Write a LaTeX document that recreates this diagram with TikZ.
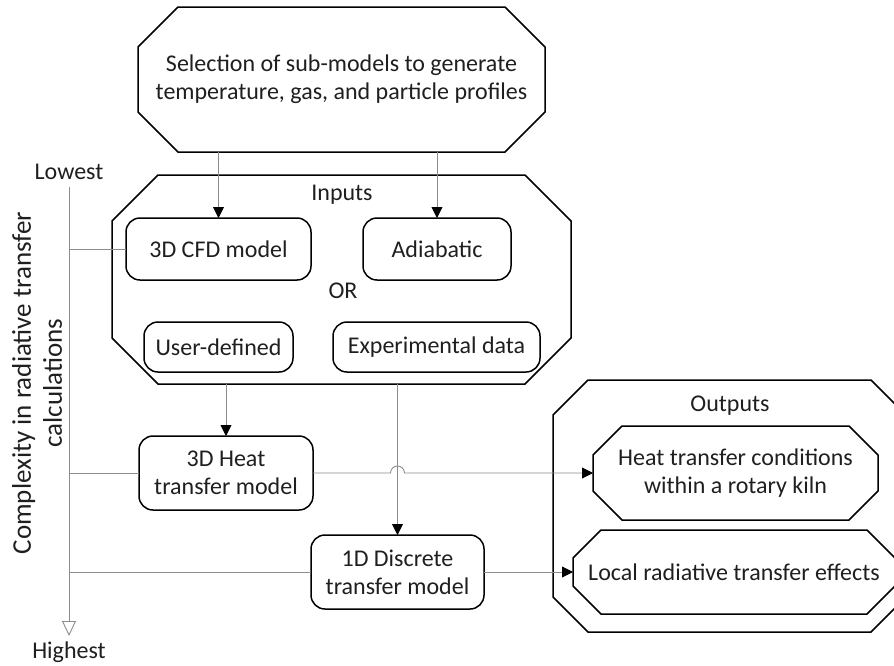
\documentclass[tikz,border=0pt]{standalone}
\usepackage{fontspec}
\setmainfont{Carlito}
\usetikzlibrary{arrows.meta,calc}

% chamfered (octagonal) outline drawn round a named node
\newcommand\octframe[2]{%
  \draw[octline] ([xshift=#2]#1.north west) -- ([xshift=-#2]#1.north east)
    -- ([yshift=-#2]#1.north east) -- ([yshift=#2]#1.south east)
    -- ([xshift=-#2]#1.south east) -- ([xshift=#2]#1.south west)
    -- ([yshift=#2]#1.south west) -- ([yshift=-#2]#1.north west) -- cycle;}

\begin{document}
\begin{tikzpicture}[x=1pt,y=-1pt,
  txt/.style={font=\fontsize{24}{28}\selectfont, align=center, text=black!88},
  rbox/.style={txt, draw, line width=1.5pt, rounded corners=14pt, inner sep=0pt, outer sep=0pt},
  frame/.style={txt, inner sep=0pt, outer sep=0pt},
  octline/.style={line width=1.5pt, line join=miter},
  conn/.style={draw=black!45, line width=0.9pt},
  arr/.style={conn, -{Triangle[length=11pt,width=11pt,black]}}]

\clip (0,0) rectangle (894,665);

% octagonal frames
\node[frame, minimum width=407pt, minimum height=145pt] (sel) at (341.5,79.5)
  {Selection of sub-models to generate\\temperature, gas, and particle profiles};
\node[frame, minimum width=459pt, minimum height=209pt] (inputs) at (341.5,279.5) {};
\node[frame, minimum width=353pt, minimum height=252pt] (outputs) at (729.5,506) {};
\node[frame, minimum width=285pt, minimum height=94pt] (htc) at (735.5,473)
  {Heat transfer conditions\\within a rotary kiln};
\node[frame, minimum width=322pt, minimum height=84pt] (lrt) at (734,572)
  {Local radiative transfer effects};
\octframe{sel}{40pt}
\octframe{inputs}{46pt}
\octframe{outputs}{35pt}
\octframe{htc}{29pt}
\octframe{lrt}{28pt}

\node[txt] (inlbl) at (342,195) {Inputs};
\node[txt] (orlbl) at (343,291) {OR};
\node[txt] (outlbl) at (730,406) {Outputs};

% model boxes
\node[rbox, minimum width=185pt, minimum height=62pt] (cfd) at (218.5,249) {3D CFD model};
\node[rbox, minimum width=148pt, minimum height=62pt] (adia) at (437,249) {Adiabatic};
\node[rbox, minimum width=149pt, minimum height=50pt] (user) at (218.5,347) {User-defined};
\node[rbox, minimum width=207pt, minimum height=50pt] (exp) at (436.5,347) {Experimental data};
\node[rbox, minimum width=174pt, minimum height=74pt] (heat3d) at (226,473) {3D Heat\\transfer model};
\node[rbox, minimum width=173pt, minimum height=74pt] (disc1d) at (397.5,572) {1D Discrete\\transfer model};

% complexity axis
\coordinate (axtop) at (69,187);
\coordinate (axbot) at (69,636);
\node[txt] (low) at (69,172) {Lowest};
\node[txt] (high) at (69,652) {Highest};
\node[font=\fontsize{27}{31}\selectfont, align=center, rotate=90, text=black!88] (cx) at (37,383)
  {Complexity in radiative transfer\\calculations};
\draw[conn, -{Triangle[open,length=15pt,width=14pt,fill=white]}] (axtop) -- (axbot);
\draw[conn] (cfd.west -| axtop) -- (cfd.west);
\draw[conn] (heat3d.west -| axtop) -- (heat3d.west);
\draw[conn] (disc1d.west -| axtop) -- (disc1d.west);

% flow connectors
\draw[arr] (sel.south -| cfd.north) -- (cfd.north);
\draw[arr] (sel.south -| adia.north) -- (adia.north);
\draw[arr] (inputs.south -| heat3d.north) -- (heat3d.north);
\draw[arr] (inputs.south -| disc1d.north) -- (disc1d.north);
\draw[arr] (heat3d.east) -- ($(heat3d.east -| disc1d.north)+(-7,0)$)
  arc[start angle=180, end angle=0, radius=7pt] -- (htc.west);
\draw[arr] (disc1d.east) -- (lrt.west);
\end{tikzpicture}
\end{document}
